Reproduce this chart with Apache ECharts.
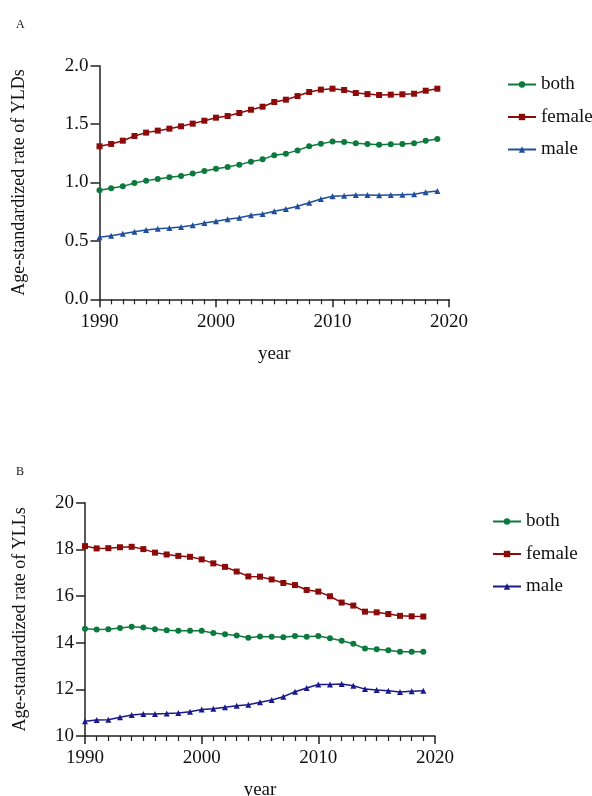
<!DOCTYPE html>
<html><head><meta charset="utf-8">
<script src="https://cdn.jsdelivr.net/npm/echarts@6/dist/echarts.min.js"></script>
<style>html,body{margin:0;padding:0;background:#fff}#c{width:592px;height:796px}</style>
</head><body><div id="c"></div>
<script>
const years = [1990,1991,1992,1993,1994,1995,1996,1997,1998,1999,2000,2001,2002,2003,2004,2005,2006,2007,2008,2009,2010,2011,2012,2013,2014,2015,2016,2017,2018,2019];
const seriesNames = ['both','female','male'];
const yldBoth = [0.933,0.950,0.967,0.996,1.016,1.030,1.044,1.056,1.076,1.098,1.118,1.133,1.153,1.178,1.198,1.233,1.247,1.275,1.310,1.332,1.350,1.347,1.335,1.330,1.324,1.327,1.330,1.335,1.358,1.372];
const yldFemale = [1.310,1.330,1.358,1.398,1.427,1.444,1.461,1.481,1.504,1.529,1.555,1.569,1.595,1.623,1.649,1.689,1.709,1.740,1.775,1.795,1.803,1.792,1.766,1.757,1.749,1.752,1.755,1.760,1.786,1.803];
const yldMale = [0.531,0.545,0.562,0.579,0.593,0.605,0.611,0.619,0.633,0.653,0.668,0.685,0.699,0.719,0.730,0.753,0.773,0.796,0.827,0.859,0.882,0.887,0.893,0.893,0.890,0.893,0.896,0.899,0.916,0.927];
const yllBoth = [14.60,14.56,14.58,14.63,14.68,14.65,14.58,14.53,14.51,14.51,14.51,14.41,14.36,14.31,14.21,14.26,14.25,14.23,14.29,14.25,14.29,14.19,14.08,13.95,13.75,13.72,13.68,13.61,13.61,13.61];
const yllFemale = [18.14,18.04,18.05,18.09,18.11,18.01,17.86,17.78,17.72,17.68,17.57,17.40,17.25,17.05,16.84,16.83,16.71,16.56,16.47,16.26,16.19,15.99,15.72,15.59,15.33,15.30,15.23,15.15,15.13,15.12];
const yllMale = [10.63,10.69,10.70,10.80,10.90,10.94,10.94,10.96,10.99,11.04,11.14,11.17,11.23,11.30,11.34,11.45,11.54,11.68,11.90,12.06,12.21,12.21,12.23,12.15,12.01,11.97,11.94,11.89,11.92,11.94];
const xTicks = [1990,2000,2010,2020];
const yldTicks = [0.0,0.5,1.0,1.5,2.0];
const yllTicks = [10,12,14,16,18,20];

const FONT = '"Liberation Serif","Times New Roman",serif';
const GREEN = '#0b7a3c', RED = '#8b0a0a', BLUEA = '#1f4e9c', BLUEB = '#1a1a8c';
const TICK = '#222';
const pairs = a => years.map((y,i)=>[y,a[i]]);

function xAxis(gi){
  return {type:'value', gridIndex:gi, min:1990, max:2020, interval:10,
    name:'year', nameLocation:'middle', nameGap:45,
    nameTextStyle:{fontFamily:FONT,fontSize:19,color:'#111'},
    axisLine:{show:true,lineStyle:{color:'#222',width:1.5}},
    axisTick:{show:true,length:8,lineStyle:{color:TICK,width:1.5}},
    minorTick:{show:true,splitNumber:10,length:5,lineStyle:{color:TICK,width:1.2}},
    splitLine:{show:false},
    axisLabel:{fontFamily:FONT,fontSize:19,color:'#111',margin:13,formatter:v=>xTicks.includes(v)?String(v):''}};
}
function yAxis(gi,min,max,itv,name,gap,fmt){
  return {type:'value', gridIndex:gi, min, max, interval:itv,
    name, nameLocation:'middle', nameGap:gap,
    nameTextStyle:{fontFamily:FONT,fontSize:18,color:'#111'},
    axisLine:{show:true,lineStyle:{color:'#222',width:1.5}},
    axisTick:{show:true,length:9,lineStyle:{color:TICK,width:1.5}},
    splitLine:{show:false},
    axisLabel:{fontFamily:FONT,fontSize:19,color:'#111',margin:11,formatter:fmt}};
}
function ser(name,data,xi,color,sym,size){
  return {type:'line', name, xAxisIndex:xi, yAxisIndex:xi, data:pairs(data),
    symbol:sym, symbolSize:size, showSymbol:true, smooth:false,
    lineStyle:{color,width:1.5}, itemStyle:{color}, emphasis:{disabled:true}};
}
const chart = echarts.init(document.getElementById('c'),null,{renderer:'canvas'});
chart.setOption({
  animation:false,
  title:[
    {text:'A',left:11,top:14,textStyle:{fontFamily:FONT,fontSize:12,fontWeight:'normal',color:'#111'}},
    {text:'B',left:11,top:461,textStyle:{fontFamily:FONT,fontSize:12,fontWeight:'normal',color:'#111'}}
  ],
  grid:[
    {left:99.5,top:65.7,width:349.5,height:233.6,outerBoundsMode:'none',containLabel:false},
    {left:85,top:502.7,width:350,height:233.3,outerBoundsMode:'none',containLabel:false}
  ],
  xAxis:[xAxis(0),xAxis(1)],
  yAxis:[
    yAxis(0,0,2,0.5,'Age-standardized rate of YLDs',71,v=>v.toFixed(1)),
    yAxis(1,10,20,2,'Age-standardized rate of YLLs',56,v=>String(v))
  ],
  legend:[
    {show:true, orient:'vertical', left:502, top:70, itemGap:13.5, itemWidth:28, itemHeight:8,
     textStyle:{fontFamily:FONT,fontSize:19,color:'#111'},
     data:['both','female','male'], selectedMode:false},
    {show:true, orient:'vertical', left:487, top:507, itemGap:13.5, itemWidth:28, itemHeight:8,
     textStyle:{fontFamily:FONT,fontSize:19,color:'#111'},
     data:['both ','female ','male '], selectedMode:false}
  ],
  series:[
    ser('both',yldBoth,0,GREEN,'circle',6),
    ser('female',yldFemale,0,RED,'rect',6),
    ser('male',yldMale,0,BLUEA,'triangle',6),
    ser('both ',yllBoth,1,GREEN,'circle',6),
    ser('female ',yllFemale,1,RED,'rect',6),
    ser('male ',yllMale,1,BLUEB,'triangle',6)
  ]
});
</script></body></html>
